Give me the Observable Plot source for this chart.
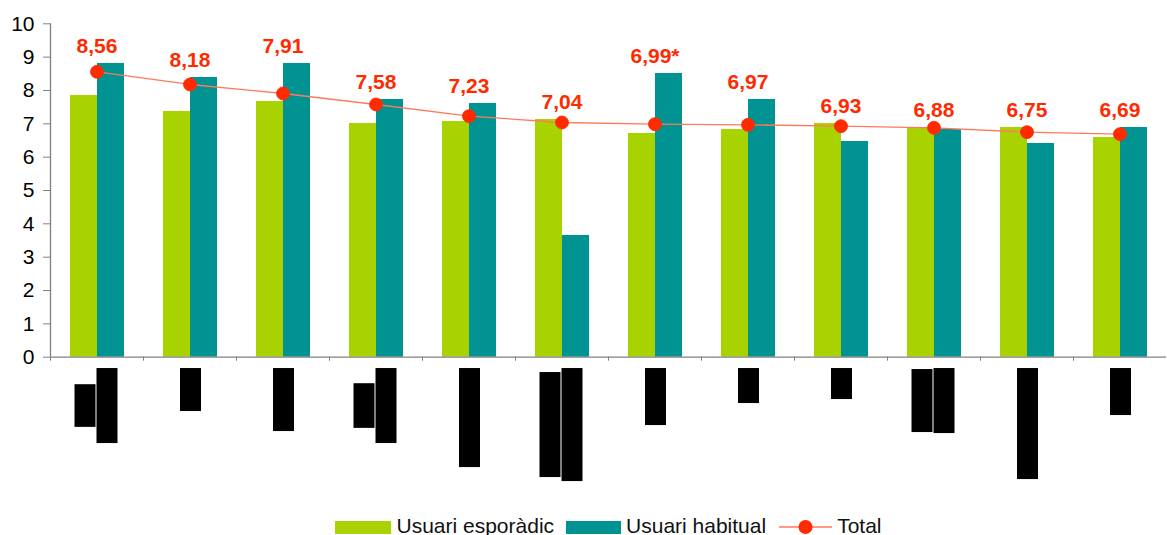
<!DOCTYPE html>
<html>
<head>
<meta charset="utf-8">
<script src="https://cdn.jsdelivr.net/npm/d3@7"></script>
<script src="https://cdn.jsdelivr.net/npm/@observablehq/plot@0.6"></script>
<style>
  html, body { margin: 0; padding: 0; background: #fff; }
  body { width: 1167px; height: 535px; overflow: hidden; font-family: "Liberation Sans", Arial, sans-serif; }
  #legend { height: 23px; display: flex; justify-content: center; align-items: flex-start; padding-left: 50px; font-size: 21px; color: #111; }
  #legend .item { display: flex; align-items: flex-start; }
  #legend .sw { width: 56px; height: 13px; margin-top: 9px; margin-right: 5px; }
  #legend .txt { line-height: 23px; margin-top: 2px; }
  #legend svg { margin-top: 2px; margin-right: 5px; }
</style>
</head>
<body>
<div id="chart"></div>
<div id="legend"></div>
<script>
// ---- data ----
const categories = ["C1","C2","C3","C4","C5","C6","C7","C8","C9","C10","C11","C12"];
const usuariEsporadic = [7.85, 7.37, 7.67, 7.01, 7.07, 7.13, 6.71, 6.83, 7.01, 6.89, 6.89, 6.59];
const usuariHabitual  = [8.81, 8.39, 8.81, 7.73, 7.61, 3.65, 8.51, 7.73, 6.47, 6.83, 6.41, 6.89];
const total           = [8.56, 8.18, 7.91, 7.58, 7.23, 7.04, 6.99, 6.97, 6.93, 6.88, 6.75, 6.69];
const totalNotes      = ["", "", "", "", "", "", "*", "", "", "", "", ""];
// category labels (unreadable, drawn as black blocks): length of each label line, in axis units
const labelLineLengths = [[1.28, 2.25], [1.29], [1.89], [1.34, 2.25], [2.97], [3.15, 3.39],
                          [1.71], [1.05], [0.93], [1.89, 1.95], [3.33], [1.41]];
const yTicks = [0, 1, 2, 3, 4, 5, 6, 7, 8, 9, 10];
const seriesNames = ["Usuari esporàdic", "Usuari habitual", "Total"];

// ---- styles ----
const GREEN = "#A9D300", TEAL = "#009391", RED = "#FF2A00", LINE = "#FF7A5C", AXIS = "#808080";
const W = 1167, H = 512, ML = 50, MR = 1, MT = 23.3, MB = 155.3;
const bw = (W - ML - MR) / categories.length;

const rows = categories.map((c, i) => ({
  cat: c, esp: usuariEsporadic[i], hab: usuariHabitual[i], total: total[i],
  label: total[i].toFixed(2).replace(".", ",") + totalNotes[i]
}));

const lines = [];
categories.forEach((c, i) => {
  const L = labelLineLengths[i];
  const maxLen = Math.max(...L);
  const center = -0.34 - maxLen / 2;
  L.forEach((len, j) => lines.push({cat: c, j, n: L.length, top: center + len / 2, bottom: center - len / 2}));
});

const fmt = d3.format(",.2f");

const chart = Plot.plot({
  width: W, height: H,
  marginLeft: ML, marginRight: MR, marginTop: MT, marginBottom: MB,
  style: {fontFamily: "'Liberation Sans', Arial, sans-serif", background: "#fff", overflow: "visible"},
  x: {domain: categories, padding: 0, axis: null},
  y: {domain: [0, 10], axis: null},
  marks: [
    Plot.barY(rows, {x: "cat", y: "esp", fill: GREEN, insetLeft: 20, insetRight: 46}),
    Plot.barY(rows, {x: "cat", y: "hab", fill: TEAL, insetLeft: 47, insetRight: 19}),
    // category label blocks
    Plot.barY(lines.filter(d => d.n === 1), {x: "cat", y1: "top", y2: "bottom", fill: "black", insetLeft: (bw - 21) / 2 + 1, insetRight: (bw - 21) / 2 - 1}),
    Plot.barY(lines.filter(d => d.n === 2 && d.j === 0), {x: "cat", y1: "top", y2: "bottom", fill: "black", insetLeft: bw / 2 - 22, insetRight: bw / 2 + 1}),
    Plot.barY(lines.filter(d => d.n === 2 && d.j === 1), {x: "cat", y1: "top", y2: "bottom", fill: "black", insetLeft: bw / 2, insetRight: bw / 2 - 21}),
    // axes
    Plot.ruleY([0], {stroke: AXIS, strokeWidth: 1.3}),
    Plot.ruleX([categories[0]], {y1: 0, y2: 10, dx: -bw / 2, stroke: AXIS, strokeWidth: 1.3}),
    Plot.ruleX(categories, {y1: 0, y2: -0.12, dx: -bw / 2, stroke: AXIS}),
    Plot.axisY({ticks: yTicks, tickSize: 7, tickPadding: 9, fontSize: 21, stroke: AXIS, fill: "black", tickFormat: d => String(d)}),
    // total line
    Plot.line(rows, {x: "cat", y: "total", stroke: LINE, strokeWidth: 1.3}),
    Plot.dot(rows, {x: "cat", y: "total", r: 6.5, fill: RED, stroke: RED, strokeWidth: 0.8}),
    Plot.text(rows, {x: "cat", y: d => Math.max(d.esp, d.hab, d.total), text: "label", dy: -10, lineAnchor: "bottom",
      fill: RED, fontSize: 21, fontWeight: "bold"})
  ]
});
document.getElementById("chart").appendChild(chart);

// legend
const legend = document.getElementById("legend");
legend.innerHTML = `
  <div class="item"><div class="sw" style="background:${GREEN}"></div><div class="txt">${seriesNames[0]}</div></div>
  <div class="item" style="margin-left:12px"><div class="sw" style="background:${TEAL};width:55px"></div><div class="txt">${seriesNames[1]}</div></div>
  <div class="item" style="margin-left:13px"><svg width="53" height="21"><line x1="0" x2="53" y1="13" y2="13" stroke="${LINE}" stroke-width="1.5"/><circle cx="26.5" cy="13" r="7" fill="${RED}"/></svg><div class="txt">${seriesNames[2]}</div></div>`;
</script>
</body>
</html>
